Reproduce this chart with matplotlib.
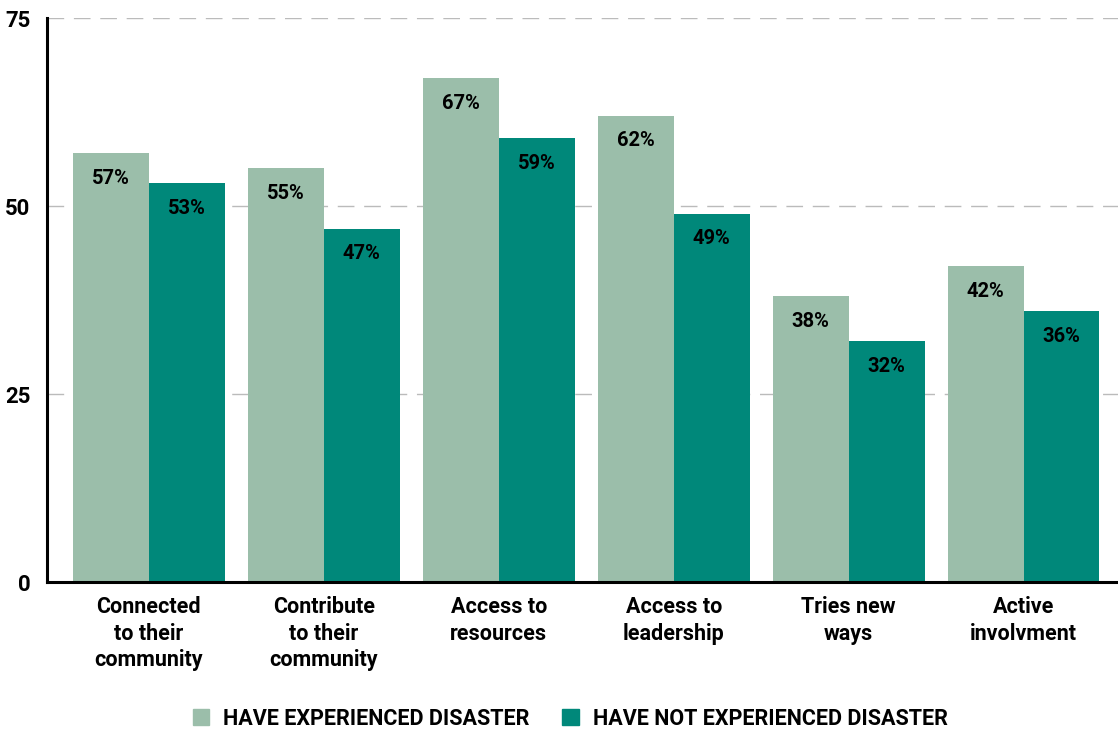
import matplotlib.pyplot as plt
import numpy as np
from matplotlib.patches import Patch

plt.rcParams['font.family'] = ['Roboto', 'DejaVu Sans']

# ------------------------------ data ------------------------------ #
categories = ["Connected\nto their\ncommunity", "Contribute\nto their\ncommunity",
              "Access to\nresources", "Access to\nleadership", "Tries new\nways",
              "Active\ninvolvment"]
experienced = [57, 55, 67, 62, 38, 42]
not_experienced = [53, 47, 59, 49, 32, 36]
yticks = [0, 25, 50, 75]
legend_labels = ["HAVE EXPERIENCED DISASTER", "HAVE NOT EXPERIENCED DISASTER"]

light = "#9BBEAA"
dark = "#00887A"

# ------------------------------ plot ------------------------------ #
fig = plt.figure(figsize=(11.18, 7.29), dpi=100)
ax = fig.add_axes([0.042, 0.2016, 0.958, 0.7737])

x = np.arange(len(categories))
w = 0.434
b1 = ax.bar(x - w / 2, experienced, w, color=light, zorder=2)
b2 = ax.bar(x + w / 2, not_experienced, w, color=dark, zorder=2)

for bars, vals in ((b1, experienced), (b2, not_experienced)):
    for r, v in zip(bars, vals):
        ax.annotate(f"{v}%", (r.get_x() + r.get_width() / 2, v), xytext=(0, -18),
                    textcoords="offset points", ha="center", va="center",
                    fontsize=14.5, fontweight="bold", color="black", zorder=3)

ax.set_xlim(-0.583, 5.54)
ax.set_ylim(0, 75)
ax.set_yticks(yticks)
ax.set_yticklabels([str(t) for t in yticks], fontsize=16, fontweight="bold")
ax.set_xticks(x)
ax.set_xticklabels(categories, fontsize=15.5, fontweight="bold", linespacing=1.27,
                   va="top")
ax.tick_params(axis="both", length=0)
ax.tick_params(axis="x", pad=10)
ax.tick_params(axis="y", pad=12)

for t in yticks[1:]:
    ax.axhline(t, color="#BBBBBB", lw=1, linestyle=(0, (12, 7)), zorder=1)

for s in ("top", "right"):
    ax.spines[s].set_visible(False)
ax.spines["left"].set_linewidth(2.2)
ax.spines["bottom"].set_linewidth(2.2)
ax.spines["left"].set_zorder(4)
ax.spines["bottom"].set_zorder(4)

handles = [Patch(color=light), Patch(color=dark)]
leg = fig.legend(handles, legend_labels, loc="center", bbox_to_anchor=(0.51, 0.014),
                 ncol=2, frameon=False, handlelength=0.75, handleheight=0.75,
                 handletextpad=0.65, columnspacing=1.53,
                 prop={"size": 15.5, "weight": "bold"})

plt.savefig("out.png", dpi=100)
